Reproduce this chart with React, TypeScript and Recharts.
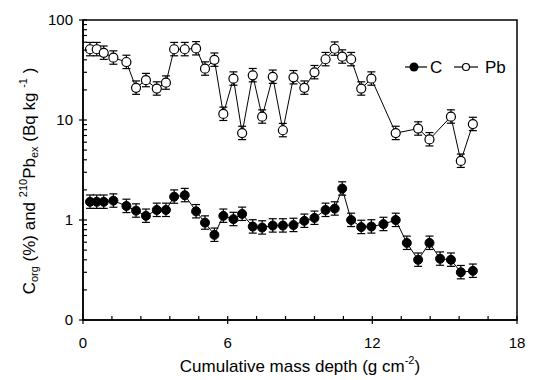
import { ComposedChart, Line, XAxis, YAxis, ErrorBar, ReferenceArea } from 'recharts';

// cumulative mass depth (g cm-2)
const depth = [
  0.29, 0.57, 0.86, 1.26, 1.8, 2.2, 2.61, 3.06, 3.44, 3.78,
  4.22, 4.69, 5.06, 5.45, 5.82, 6.24, 6.6, 7.04, 7.43, 7.87,
  8.29, 8.73, 9.18, 9.6, 10.06, 10.44, 10.75, 11.12, 11.54, 11.96,
  12.46, 12.97, 13.43, 13.9, 14.37, 14.81, 15.26, 15.67, 16.17,
];

// Corg (%)
const carbon = [
  1.52, 1.52, 1.52, 1.56, 1.38, 1.24, 1.1, 1.26, 1.26, 1.71,
  1.77, 1.22, 0.94, 0.71, 1.1, 1.02, 1.15, 0.86, 0.84, 0.88,
  0.88, 0.89, 0.98, 1.05, 1.26, 1.3, 2.06, 1.0, 0.85, 0.86,
  0.91, 1.0, 0.59, 0.4, 0.59, 0.41, 0.4, 0.3, 0.31,
];

// 210Pbex (Bq kg-1), null where not measured
const lead = [
  51, 51, 47, 42, 38, 21, 25, 20.6, 23.6, 51,
  51, 52, 32.6, 40, 11.5, 25.9, 7.4, 28, 10.8, 27,
  7.9, 26.7, 21, 30, 40.5, 51.6, 43, 40.5, 20.6, 25.9,
  null, 7.4, null, 8.2, 6.4, null, 10.8, 3.9, 9.1,
];

const xTicks = [0, 1.2, 2.4, 3.6, 4.8, 6, 7.2, 8.4, 9.6, 10.8, 12, 13.2, 14.4, 15.6, 16.8, 18];
const xMajor = [0, 6, 12, 18];
const yTicks = [
  0.1, 0.2, 0.3, 0.4, 0.5, 0.6, 0.7, 0.8, 0.9,
  1, 2, 3, 4, 5, 6, 7, 8, 9,
  10, 20, 30, 40, 50, 60, 70, 80, 90, 100,
];
const yMajor = [0.1, 1, 10, 100];

const errLow = 0.14;
const errHigh = 0.17;

const font = '"Liberation Sans", Arial, sans-serif';

const cRows = depth.map((x, i) => ({
  x,
  v: carbon[i],
  err: [carbon[i] * errLow, carbon[i] * errHigh],
}));

const pbRows = depth
  .map((x, i) => ({ x, v: lead[i] }))
  .filter((r) => r.v != null)
  .map((r) => ({ ...r, err: [(r.v as number) * errLow, (r.v as number) * errHigh] }));

function XTick({ x, y, payload }: any) {
  const major = xMajor.includes(payload.value);
  return (
    <g>
      <line x1={x} x2={x} y1={y - 4} y2={major ? y + 4 : y} stroke="#000" strokeWidth={1.2} />
      {major && (
        <text x={x} y={y + 28} textAnchor="middle" fontSize={15} fontFamily={font} fill="#000">
          {payload.value}
        </text>
      )}
    </g>
  );
}

function YTick({ x, y, payload }: any) {
  const major = yMajor.includes(payload.value);
  return (
    <g>
      <line x1={major ? x - 4 : x} x2={x + 4} y1={y} y2={y} stroke="#000" strokeWidth={1.2} />
      {major && (
        <text x={x - 10} y={y + 5} textAnchor="end" fontSize={15} fontFamily={font} fill="#000">
          {payload.value === 0.1 ? '0' : payload.value}
        </text>
      )}
    </g>
  );
}

function YTitle({ viewBox }: any) {
  const cx = viewBox.x + 35;
  const cy = viewBox.y + viewBox.height / 2 + 11;
  return (
    <text
      x={cx}
      y={cy}
      transform={`rotate(-90, ${cx}, ${cy})`}
      textAnchor="middle"
      fontSize={17}
      fontFamily={font}
      fill="#000"
    >
      C<tspan fontSize={11} baselineShift="-3">org</tspan>
      <tspan> (%) and </tspan>
      <tspan fontSize={11} baselineShift="8">210</tspan>
      <tspan>Pb</tspan>
      <tspan fontSize={11} baselineShift="-3">ex</tspan>
      <tspan> (Bq kg </tspan>
      <tspan fontSize={11} baselineShift="8">-1</tspan>
      <tspan> )</tspan>
    </text>
  );
}

function XTitle({ viewBox }: any) {
  const cx = viewBox.x + viewBox.width / 2;
  const cy = viewBox.y + 52;
  return (
    <text x={cx} y={cy} textAnchor="middle" fontSize={17} fontFamily={font} fill="#000">
      Cumulative mass depth (g cm<tspan fontSize={11} baselineShift="8">-2</tspan>)
    </text>
  );
}

function LegendBox() {
  return (
    <svg width={534} height={380} style={{ position: 'absolute', left: 0, top: 0, pointerEvents: 'none' }}>
      <g fontFamily={font} fontSize={17} fill="#000">
        <line x1={405} x2={427} y1={67} y2={67} stroke="#000" strokeWidth={1.2} />
        <circle cx={414} cy={67} r={4.5} fill="#000" />
        <text x={430} y={73}>C</text>
        <line x1={454} x2={478} y1={67} y2={67} stroke="#000" strokeWidth={1.2} />
        <circle cx={466} cy={67} r={3.5} fill="#fff" stroke="#000" strokeWidth={1.2} />
        <text x={485} y={73}>Pb</text>
      </g>
    </svg>
  );
}

export default function App() {
  return (
    <div style={{ position: 'absolute', left: 0, top: 0, width: 534, height: 380, background: '#fff' }}>
      <ComposedChart width={534} height={380} margin={{ top: 20, right: 17, bottom: 20, left: 0 }}>
        <XAxis
          dataKey="x"
          type="number"
          domain={[0, 18]}
          ticks={xTicks}
          interval={0}
          allowDataOverflow
          height={40}
          tickSize={0}
          tickMargin={0}
          tickLine={false}
          tick={<XTick />}
          axisLine={{ stroke: '#000', strokeWidth: 1.5 }}
          label={<XTitle />}
        />
        <YAxis
          type="number"
          scale="log"
          domain={[0.1, 100]}
          ticks={yTicks}
          interval={0}
          allowDataOverflow
          width={83}
          tickSize={0}
          tickMargin={0}
          tickLine={false}
          tick={<YTick />}
          axisLine={{ stroke: '#000', strokeWidth: 1.5 }}
          label={<YTitle />}
        />
        <ReferenceArea
          x1={0}
          x2={18}
          y1={0.1}
          y2={100}
          fill="none"
          stroke="#000"
          strokeWidth={1.5}
          ifOverflow="visible"
        />
        <Line
          data={pbRows}
          dataKey="v"
          name="Pb"
          stroke="#000"
          strokeWidth={1}
          dot={{ r: 4.5, fill: '#fff', stroke: '#000', strokeWidth: 1.2 }}
          isAnimationActive={false}
        >
          <ErrorBar dataKey="err" width={4} stroke="#000" strokeWidth={1.2} direction="y" />
        </Line>
        <Line
          data={cRows}
          dataKey="v"
          name="C"
          stroke="#000"
          strokeWidth={1}
          dot={{ r: 4.5, fill: '#000', stroke: '#000', strokeWidth: 1 }}
          isAnimationActive={false}
        >
          <ErrorBar dataKey="err" width={4} stroke="#000" strokeWidth={1.2} direction="y" />
        </Line>
      </ComposedChart>
      <LegendBox />
    </div>
  );
}
